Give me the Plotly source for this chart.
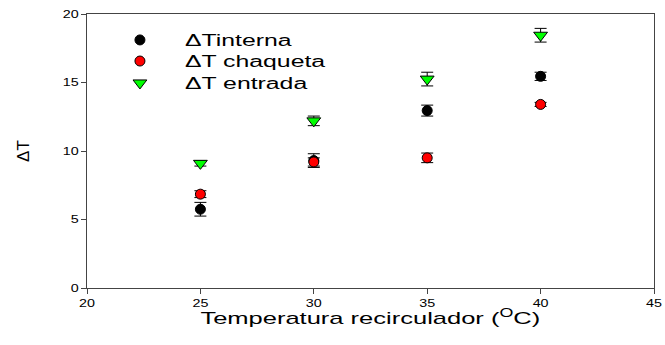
import plotly.graph_objects as go

temps = [25, 30, 35, 40]
t_interna = [5.75, 9.3, 12.95, 15.45]
t_interna_err = [0.5, 0.5, 0.4, 0.3]
t_chaqueta = [6.85, 9.2, 9.5, 13.4]
t_chaqueta_err = [0.25, 0.3, 0.35, 0.15]
t_entrada = [9.1, 12.2, 15.25, 18.45]
t_entrada_err = [0.2, 0.35, 0.5, 0.5]

x_ticks = [20, 25, 30, 35, 40, 45]
y_ticks = [0, 5, 10, 15, 20]
x_title = "Temperatura recirculador (<sup>O</sup>C)"
y_title = "ΔT"

FONT = "Arial, Liberation Sans, sans-serif"
fig = go.Figure()

def add(name, y, err, color, symbol, size, legend):
    fig.add_trace(go.Scatter(
        x=temps, y=y, mode="markers", name=name, legend=legend,
        marker=dict(color=color, symbol=symbol, size=size,
                    line=dict(color="black", width=1)),
        error_y=dict(type="data", array=err, visible=True,
                     color="black", thickness=1, width=6),
    ))

add("ΔTinterna", t_interna, t_interna_err, "black", "circle", 10, "legend")
add("ΔT chaqueta", t_chaqueta, t_chaqueta_err, "red", "circle", 10, "legend2")
add("ΔT entrada", t_entrada, t_entrada_err, "#00ff00", "triangle-down", 12, "legend3")

axis_common = dict(showgrid=False, zeroline=False, showline=True,
                   linecolor="#444", linewidth=1, mirror=True,
                   ticks="outside", ticklen=5, tickcolor="#444",
                   automargin=False,
                   tickfont=dict(family=FONT, size=11, color="black"))

fig.update_xaxes(range=[20, 45], tickvals=x_ticks, **axis_common)
fig.update_yaxes(range=[0, 20], tickvals=y_ticks,
                 title=dict(text=y_title,
                            font=dict(family=FONT, size=17, color="black"),
                            standoff=32),
                 **axis_common)

fig.add_annotation(text=x_title, xref="paper", yref="paper", x=0.5, y=0,
                   xanchor="center", yanchor="top", yshift=-16, showarrow=False,
                   font=dict(family=FONT, size=17, color="black"))

def leg(y):
    return dict(x=0.014, y=y, xanchor="left", yanchor="middle",
                itemwidth=80, bgcolor="rgba(0,0,0,0)",
                font=dict(family=FONT, size=16, color="black"))

fig.update_layout(
    width=665, height=345,
    margin=dict(l=87, r=11, t=14, b=57),
    paper_bgcolor="white", plot_bgcolor="white",
    showlegend=True,
    legend=leg(0.905),
    legend2=leg(0.828),
    legend3=leg(0.748),
)

# The reference picture is stretched horizontally; widen text glyphs to match.
js = """
document.body.style.margin = '0';
var gd = document.getElementById('{plot_id}');
function stretchSel(sel, f){
  gd.querySelectorAll(sel).forEach(function(t){
    if (t.getAttribute('textLength')) return;
    var L = t.getComputedTextLength();
    if (L > 0){
      t.setAttribute('textLength', (L*f).toFixed(2));
      t.setAttribute('lengthAdjust', 'spacingAndGlyphs');
    }
  });
}
function stretchAll(){
  gd.querySelectorAll('g.legend [clip-path], g.legend2 [clip-path], g.legend3 [clip-path]')
    .forEach(function(e){ e.removeAttribute('clip-path'); });
  stretchSel('text.legendtext, text.legend2text, text.legend3text', 1.55);
  stretchSel('.xtick text', 1.3);
  stretchSel('.ytick text', 1.3);
  stretchSel('text.annotation-text', 1.5);
}
stretchAll();
new MutationObserver(function(){ stretchAll(); })
  .observe(gd, {childList: true, subtree: true, characterData: true});
[0, 50, 200].forEach(function(ms){ setTimeout(stretchAll, ms); });
requestAnimationFrame(stretchAll);
"""

fig.write_html("out.html", post_script=js, config={"displayModeBar": False})
